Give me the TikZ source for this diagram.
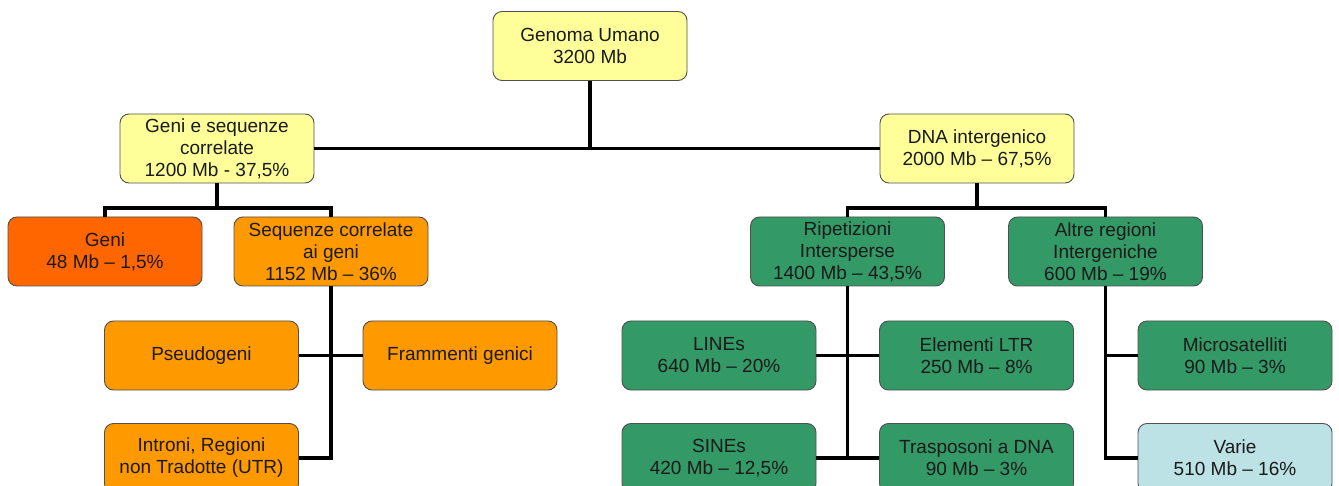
\documentclass[tikz,border=0pt]{standalone}
\usepackage{fontspec}
\setmainfont{Liberation Sans}
\definecolor{cyel}{HTML}{FFFF99}
\definecolor{cred}{HTML}{FF6600}
\definecolor{corg}{HTML}{FF9900}
\definecolor{cgrn}{HTML}{339966}
\definecolor{cblu}{HTML}{BDE2E6}
\definecolor{cbrd}{HTML}{505050}
\definecolor{ctxt}{HTML}{1A1A1A}
\tikzset{
  box/.style={draw=cbrd, line width=0.9pt, rounded corners=9pt, minimum width=194pt, minimum height=69pt,
    inner sep=0pt, align=center, text=ctxt, font=\fontsize{19}{22}\selectfont},
  yel/.style={box, fill=cyel},
  red/.style={box, fill=cred},
  org/.style={box, fill=corg},
  grn/.style={box, fill=cgrn},
  blu/.style={box, fill=cblu},
  conn/.style={draw=black, line width=3.8pt}
}
\begin{document}
\begin{tikzpicture}[x=1pt,y=-1pt]
\clip (0,0) rectangle (1339,486);
\fill[white] (0,0) rectangle (1339,486);
% connectors first
\coordinate (j1) at (217,208);
\coordinate (j2) at (977,208);
\node[yel] (gu) at (590,46) {Genoma Umano\\3200 Mb};
\node[yel] (gs) at (217,148.5) {Geni e sequenze\\correlate\\1200 Mb - 37,5\%};
\node[yel] (dna) at (977,148.5) {DNA intergenico\\2000 Mb -- 67,5\%};
\node[red] (geni) at (105,251.5) {Geni\\48 Mb -- 1,5\%};
\node[org] (seq) at (331,251.5) {Sequenze correlate\\ai geni\\1152 Mb -- 36\%};
\node[org] (pseudo) at (201.5,355.5) {Pseudogeni};
\node[org] (fram) at (460,355.5) {Frammenti genici};
\node[org] (intr) at (201.5,458) {Introni, Regioni\\non Tradotte (UTR)};
\node[grn] (rip) at (847.5,251.5) {Ripetizioni\\Intersperse\\1400 Mb -- 43,5\%};
\node[grn] (altre) at (1105.5,251.5) {Altre regioni\\Intergeniche\\600 Mb -- 19\%};
\node[grn] (lines) at (719,355.5) {LINEs\\640 Mb -- 20\%};
\node[grn] (ltr) at (976.5,355.5) {Elementi LTR\\250 Mb -- 8\%};
\node[grn] (sines) at (719,458) {SINEs\\420 Mb -- 12,5\%};
\node[grn] (trasp) at (976.5,458) {Trasposoni a DNA\\90 Mb -- 3\%};
\node[grn] (micro) at (1235,355.5) {Microsatelliti\\90 Mb -- 3\%};
\node[blu] (varie) at (1235,458) {Varie\\510 Mb -- 16\%};
% connectors
\draw[conn] (gu.south) -- (gu.south |- gs.east);
\draw[conn] (gs.east) -- (dna.west);
\draw[conn] (gs.south) -- (j1);
\draw[conn] (geni.north) |- (j1) -| (seq.north);
\draw[conn] (seq.south) |- (intr.east);
\draw[conn] (pseudo.east) -- (fram.west);
\draw[conn] (dna.south) -- (j2);
\draw[conn] (rip.north) |- (j2) -| (altre.north);
\draw[conn] (rip.south) |- (sines.east);
\draw[conn] (rip.south |- trasp.west) -- (trasp.west);
\draw[conn] (lines.east) -- (ltr.west);
\draw[conn] (altre.south) |- (varie.west);
\draw[conn] (altre.south |- micro.west) -- (micro.west);
\end{tikzpicture}
\end{document}
